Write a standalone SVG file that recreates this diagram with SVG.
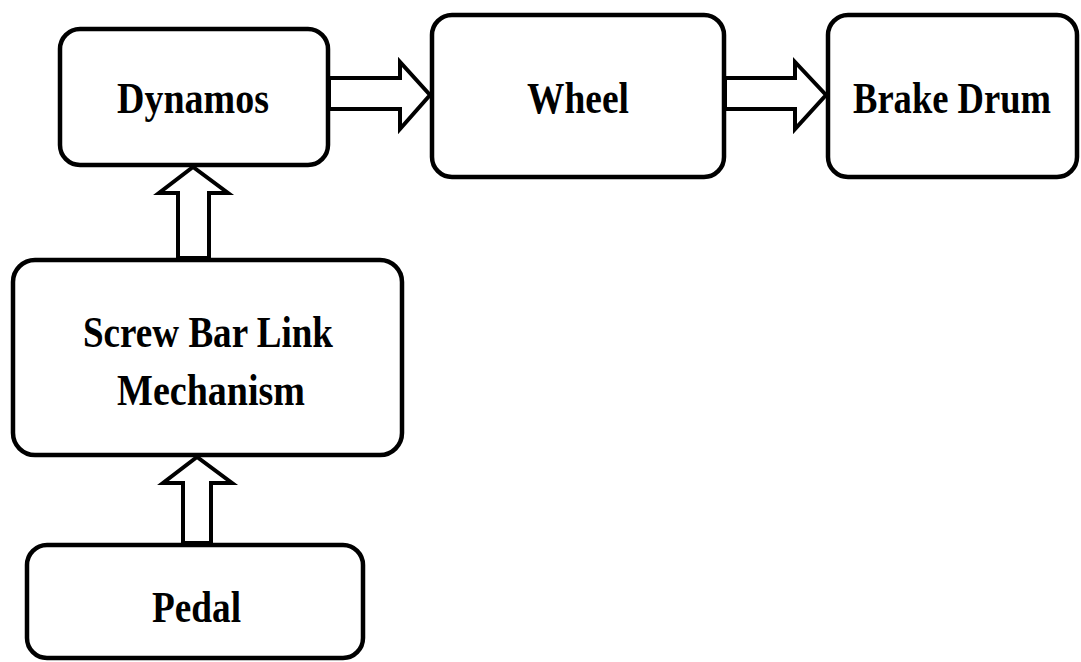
<svg xmlns="http://www.w3.org/2000/svg" width="1081" height="662" viewBox="0 0 1081 662">
<style>
.box{fill:#fff;stroke:#000;stroke-width:4.5}
.arr{fill:#fff;stroke:#000;stroke-width:4;stroke-linejoin:miter}
.t{font-family:"Liberation Serif","Times New Roman",serif;font-weight:bold;font-size:44px;fill:#000}
</style>
<rect width="1081" height="662" fill="#fff"/>
<g id="dynamos">
<rect class="box" x="60" y="29" width="268" height="136" rx="20"/>
<text class="t" x="117" y="113" textLength="152" lengthAdjust="spacingAndGlyphs">Dynamos</text>
</g>
<g id="wheel">
<rect class="box" x="432" y="15" width="292" height="162" rx="20"/>
<text class="t" x="527" y="113" textLength="102" lengthAdjust="spacingAndGlyphs">Wheel</text>
</g>
<g id="brake-drum">
<rect class="box" x="828" y="15" width="249" height="162" rx="20"/>
<text class="t" x="952" y="113" text-anchor="middle" textLength="198" lengthAdjust="spacingAndGlyphs">Brake Drum</text>
</g>
<g id="screw-bar-link">
<rect class="box" x="13" y="260" width="389" height="195" rx="22"/>
<text class="t" x="83" y="347" textLength="250" lengthAdjust="spacingAndGlyphs">Screw Bar Link</text>
<text class="t" x="117" y="405" textLength="188" lengthAdjust="spacingAndGlyphs">Mechanism</text>
</g>
<g id="pedal">
<rect class="box" x="27" y="545" width="336" height="113" rx="20"/>
<text class="t" x="152" y="622" textLength="89" lengthAdjust="spacingAndGlyphs">Pedal</text>
</g>
<g id="connectors">
<polygon class="arr" points="329,78 400,78 400,62 430,95 400,129 400,109 329,109"/>
<polygon class="arr" points="725,78 795,78 795,62 826,95 795,129 795,109 725,109"/>
<polygon class="arr" points="178,258 178,193 159,193 193,167 228,193 209,193 209,258"/>
<polygon class="arr" points="183,543 183,483 163,483 197,457 232,483 211,483 211,543"/>
</g>
</svg>
